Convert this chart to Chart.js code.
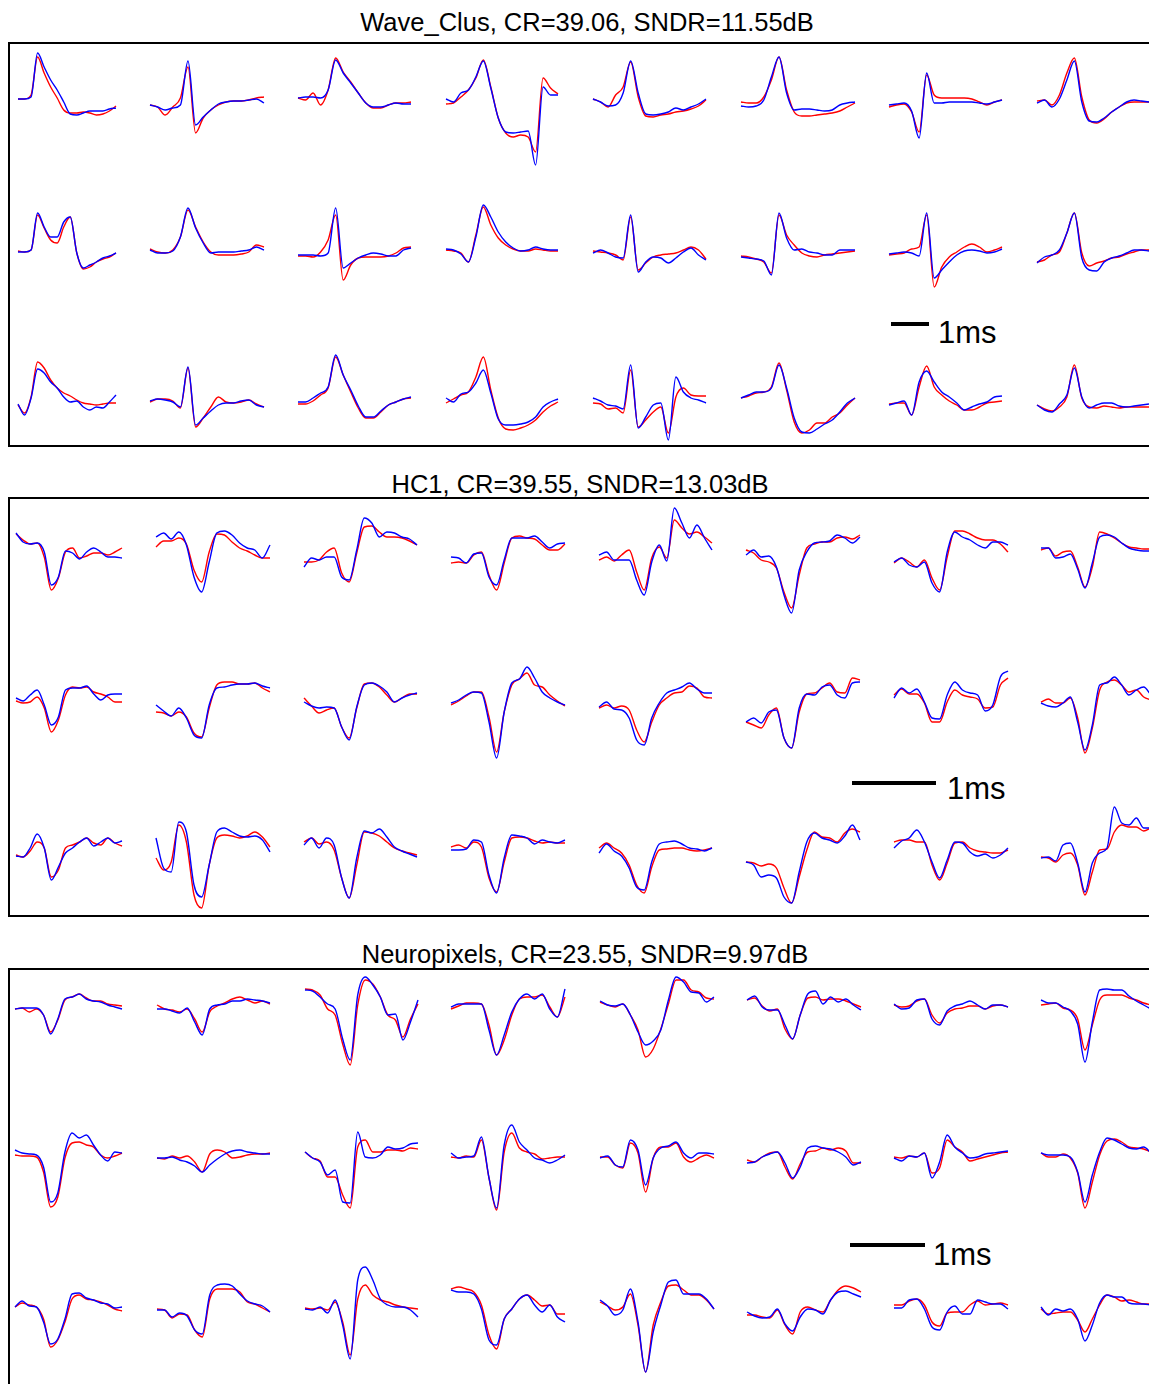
<!DOCTYPE html>
<html>
<head>
<meta charset="utf-8">
<title>Spike reconstruction</title>
<script src="https://cdn.jsdelivr.net/npm/chart.js@4/dist/chart.umd.min.js"></script>
<style>
  html, body { margin: 0; padding: 0; background: #fff; }
  body { width: 1149px; height: 1384px; overflow: hidden; position: relative; font-family: "Liberation Sans", Arial, sans-serif; }
  .frame { position: absolute; left: 8px; width: 1200px; border: 2px solid #000; box-sizing: border-box; }
  .title { position: absolute; width: 700px; text-align: center; font-size: 25.5px; line-height: 28px; color: #000; white-space: nowrap; }
  .ms { position: absolute; font-size: 31px; line-height: 32px; color: #000; }
  #wrap { position: absolute; left: 0; top: 0; width: 1149px; height: 1384px; }
</style>
</head>
<body>
<div class="frame" style="top:42px;height:405px"></div>
<div class="frame" style="top:497px;height:420px"></div>
<div class="frame" style="top:968px;height:500px"></div>
<div id="titles"></div>
<div id="wrap"><canvas id="spikes"></canvas></div>
<script>
// titulos de los paneles
const panelTitles = ['Wave_Clus, CR=39.06, SNDR=11.55dB', 'HC1, CR=39.55, SNDR=13.03dB', 'Neuropixels, CR=23.55, SNDR=9.97dB'];
const scaleBarLabel = '1ms';

// amplitudes (hacia arriba positivo), 16 muestras por espiga, 3 filas x 8 columnas
const waveClusRed = [
  [1,1,5,43,27,13,2,-10,-13,-13,-12,-13,-15,-14,-11,-6],
  [-5,-7,-15,-7,2,33,-33,-18,-10,-5,-2,-1,-1,0,2,3],
  [2,0,7,-5,10,42,28,18,7,-3,-8,-8,-5,-3,-3,-2],
  [-4,-3,3,10,22,40,13,-18,-33,-37,-35,-37,-52,22,12,6],
  [1,-2,-7,5,13,38,3,-16,-17,-15,-14,-12,-11,-9,-6,0],
  [-2,-3,-3,3,20,43,10,-12,-16,-16,-15,-14,-13,-11,-7,-3],
  [-7,-5,-4,-12,-32,25,5,2,2,2,2,1,-2,-5,-2,0],
  [-1,0,-5,5,27,42,3,-20,-23,-19,-12,-7,-3,-2,-2,-2],
  [1,0,2,37,24,12,9,25,35,-1,-17,-15,-10,-7,-5,-1],
  [3,0,-1,2,15,42,25,10,0,-3,-3,-3,-2,0,7,5],
  [-4,-4,-5,0,12,37,-28,-13,-6,-5,-5,-5,-4,-1,4,5],
  [2,1,-1,-10,17,45,27,14,7,3,1,1,3,2,1,1],
  [1,0,-1,-3,-8,35,-18,-11,-5,-3,-2,-1,2,5,2,-7],
  [-4,-5,-7,-10,-21,37,17,7,-1,-4,-5,-3,-2,-1,0,1],
  [-3,-2,-1,3,5,37,-35,-15,-5,0,5,8,5,0,2,5],
  [-10,-8,-3,0,19,39,-1,-14,-11,-9,-6,-5,-2,0,2,2],
  [-1,-9,7,42,36,24,16,11,8,4,1,0,-1,0,1,1],
  [2,5,5,3,-4,36,-23,-14,-3,7,2,1,2,4,0,-3],
  [0,0,3,9,16,47,29,12,-4,-14,-14,-8,-1,2,5,6],
  [1,5,9,12,27,47,14,-14,-25,-26,-24,-21,-16,-8,-2,2],
  [1,0,-5,-4,-9,34,-23,-16,-8,-3,-29,7,16,9,8,8],
  [6,8,11,12,17,41,14,-18,-29,-26,-19,-19,-13,-9,-1,6],
  [0,1,1,-11,17,38,17,9,3,-1,-6,-6,-3,1,2,3],
  [-1,-5,-7,-3,7,39,6,-3,-4,-2,-3,-4,-3,-3,-3,-3]
];
const waveClusBlue = [
  [1,1,3,47,33,20,10,-2,-14,-15,-13,-11,-11,-11,-9,-8],
  [-5,-7,-10,-8,-5,39,-25,-17,-10,-4,-2,-1,-1,0,1,-3],
  [2,3,3,2,10,40,27,17,7,-3,-7,-7,-5,-3,-4,-4],
  [1,-2,7,10,23,39,12,-18,-32,-33,-32,-31,-65,13,5,5],
  [1,-2,-6,-5,7,39,7,-14,-15,-14,-12,-8,-10,-7,-4,1],
  [-6,-7,-6,0,23,43,7,-10,-9,-9,-10,-11,-10,-5,-3,-2],
  [-5,-4,-3,-11,-38,27,-3,-3,-2,-2,-2,-2,-3,-4,-2,0],
  [-3,0,-7,1,20,39,-2,-21,-22,-18,-12,-7,-2,0,-1,-2],
  [0,0,2,39,25,15,15,30,35,-1,-16,-13,-10,-6,-4,-1],
  [2,-1,-1,1,15,44,24,9,-1,0,0,0,1,2,5,2],
  [-3,-3,-3,-4,-1,44,-16,-11,-6,-3,-1,-2,-4,-4,2,4],
  [3,2,-2,-10,15,47,35,20,10,4,1,2,5,3,2,2],
  [-1,2,-1,-5,-6,37,-20,-10,-5,-6,-11,-6,0,4,-3,-8],
  [-5,-6,-7,-9,-23,39,14,2,3,0,-1,-3,-3,2,2,2],
  [-2,-1,0,-1,-4,39,-26,-18,-10,-3,1,2,1,-1,0,3],
  [-11,-5,-3,2,19,39,-6,-18,-19,-10,-6,-4,-1,2,2,1],
  [0,-11,6,35,31,22,16,7,2,3,-3,-6,-3,-4,2,9],
  [3,5,4,2,-3,37,-21,-14,-7,-1,1,1,3,4,-1,-3],
  [2,2,6,11,17,49,29,14,-2,-13,-13,-7,-1,2,5,7],
  [6,2,10,12,21,34,11,-15,-21,-21,-20,-18,-13,-3,2,5],
  [6,3,-1,-2,-5,39,-24,-13,-1,1,-36,27,12,6,4,1],
  [6,9,12,12,16,39,16,-14,-28,-29,-25,-20,-16,-8,1,6],
  [-1,1,3,-11,22,33,22,12,7,1,-6,-3,0,2,7,8],
  [-1,-6,-8,0,9,36,7,-4,-1,1,1,-2,-3,-2,-1,0]
];

const hc1Red = [
  [11,5,1,2,-12,-45,-33,-7,-3,-13,-11,-8,-8,-10,-7,-3],
  [-2,4,4,7,1,-25,-37,-7,11,10,3,-3,-6,-10,-13,-13],
  [-17,-17,-15,-7,-3,-28,-37,-8,18,19,13,8,8,7,4,0],
  [-18,-17,-18,-10,-7,-30,-45,-18,7,9,7,6,0,-5,-5,1],
  [-15,-12,-16,-10,-5,-27,-45,-13,-2,-13,25,17,11,13,8,2],
  [-5,-8,-15,-17,-23,-47,-63,-30,-3,1,3,3,7,8,6,10],
  [-18,-13,-17,-22,-15,-33,-45,-12,14,14,11,7,5,5,1,-7],
  [-5,-3,-11,-7,-6,-22,-42,-22,13,11,7,2,-2,-3,-4,-4],
  [-1,-3,-2,3,-8,-32,-20,5,13,12,13,8,6,3,-2,-2],
  [-12,-13,-16,-12,-17,-33,-37,-8,15,18,18,16,16,17,12,8],
  [2,-6,-13,-10,-8,-27,-38,-8,16,17,13,5,-2,2,6,6],
  [-5,-1,4,8,8,-17,-52,-12,15,21,27,15,13,5,-1,-6],
  [-8,-5,-8,-6,-10,-30,-42,-22,-5,2,7,8,14,12,3,2],
  [-22,-25,-28,-15,-8,-38,-48,-12,6,7,12,17,8,7,22,20],
  [5,11,6,6,-3,-22,-22,-2,10,5,3,1,-8,-7,15,22],
  [-2,1,-3,-3,2,-18,-53,-28,10,18,20,15,8,10,3,0],
  [-5,-7,-1,8,2,-27,-20,2,5,8,12,7,5,12,7,4],
  [-8,-20,-12,25,8,-45,-58,-15,12,15,14,12,14,18,13,3],
  [8,12,6,8,0,-28,-48,-15,18,17,14,8,2,-1,-3,-5],
  [3,5,2,8,3,-28,-42,-12,12,13,12,9,7,8,7,7],
  [2,7,2,-3,-15,-35,-43,-17,0,1,2,2,0,-1,0,2],
  [-12,-13,-16,-14,-18,-38,-53,-27,0,18,13,12,8,17,21,18],
  [8,10,10,8,8,-15,-30,-13,7,8,2,-1,-2,-3,-3,0],
  [-7,-8,-12,-5,-3,-15,-45,-22,0,1,18,25,23,23,19,22]
];
const hc1Blue = [
  [12,3,1,2,-7,-40,-32,-6,-8,-14,-7,-3,-7,-12,-12,-13],
  [8,12,6,13,0,-32,-47,-17,12,14,10,2,-3,-5,-13,0],
  [-22,-13,-15,-12,-12,-32,-35,-5,27,22,8,13,12,8,6,0],
  [-12,-13,-18,-9,-8,-32,-40,-15,7,7,7,9,3,-3,1,2],
  [-10,-7,-15,-15,-15,-35,-50,-17,0,-16,37,22,7,20,7,-5],
  [-10,-5,-12,-11,-22,-50,-68,-25,-7,2,3,4,10,7,2,8],
  [-17,-13,-20,-22,-17,-38,-47,-7,13,8,5,0,-3,3,3,0],
  [-3,-3,-13,-12,-9,-24,-43,-18,8,10,8,2,-3,-5,-6,-6],
  [2,-1,5,10,-5,-25,-17,10,12,12,14,6,0,5,6,6],
  [-5,-11,-16,-8,-18,-35,-38,-5,12,13,15,16,16,17,14,12],
  [-2,-6,-8,-7,-8,-27,-40,-7,15,17,14,8,-2,2,5,7],
  [-3,0,5,8,7,-22,-58,-12,17,21,33,22,8,2,-2,-5],
  [-7,-2,-9,-10,-18,-40,-45,-18,-3,7,10,13,17,11,7,7],
  [-22,-18,-23,-12,-10,-38,-48,-8,6,5,13,15,5,2,17,18],
  [2,12,7,11,-2,-18,-19,5,18,10,7,5,-11,-5,23,29],
  [-3,-6,-7,-3,3,-22,-50,-25,15,17,23,15,5,10,13,5],
  [-6,-7,2,16,2,-30,-17,-3,2,8,12,4,8,12,7,9],
  [12,-18,-22,28,18,-35,-47,-15,18,22,18,14,13,14,10,-2],
  [5,12,2,12,5,-28,-48,-8,19,17,21,13,3,-1,-4,-7],
  [0,0,1,10,8,-25,-43,-8,15,14,12,6,10,8,7,10],
  [-3,6,-1,-6,-18,-37,-40,-12,6,8,9,6,2,1,-1,2],
  [-12,-15,-27,-25,-28,-47,-53,-22,8,17,12,10,7,14,25,10],
  [2,9,12,20,8,-12,-28,-10,8,7,-2,-6,-4,-8,-5,2],
  [-8,-7,-11,5,7,-13,-42,-13,-3,2,43,27,25,32,22,22]
];

const neuroRed = [
  [-2,-1,-5,-2,-8,-25,-13,7,10,13,9,6,6,3,2,1],
  [2,-2,-3,-5,-2,-12,-25,-5,1,4,8,10,7,4,6,3],
  [18,17,12,-2,-8,-37,-58,2,27,23,10,-8,-13,-30,-12,3],
  [-2,1,4,4,3,-18,-48,-33,-8,8,10,10,12,0,-10,10],
  [5,2,0,3,-8,-23,-50,-42,-22,3,27,27,17,15,9,8],
  [7,9,1,-4,-2,-22,-32,-8,9,10,7,8,8,6,3,0],
  [2,0,1,6,8,-8,-16,-6,-2,-1,1,1,-2,1,2,0],
  [2,3,4,-1,-3,-12,-43,-18,7,12,12,12,9,7,4,2],
  [0,-1,-1,-2,-17,-52,-42,-3,12,13,10,8,0,-3,-1,2],
  [-3,-4,-1,-3,-1,-7,-17,1,5,3,-3,-2,0,1,1,2],
  [3,-3,-6,-22,-22,-40,-53,8,15,3,3,5,5,4,7,6],
  [-2,-3,-1,-2,15,-23,-55,3,22,7,3,1,-4,-3,-2,-2],
  [-2,-2,-10,-13,12,2,-37,-3,8,8,12,-2,-7,-3,0,-3],
  [-5,-7,-2,2,3,-12,-24,-9,3,4,7,5,7,4,-8,-8],
  [-2,-3,-1,-2,2,-18,-13,15,8,3,-6,-4,-2,0,2,3],
  [2,-2,-2,1,-3,-18,-53,-27,0,14,16,13,8,7,6,3],
  [0,4,2,0,-12,-40,-33,-15,8,12,8,7,5,2,-2,-4],
  [-2,-3,-11,-7,-8,-23,-30,8,18,18,18,15,5,3,-1,-5],
  [-1,-2,-1,-3,5,-15,-48,8,22,12,7,5,2,0,-1,-2],
  [18,20,18,15,2,-28,-42,-12,-2,8,12,7,1,2,-7,-7],
  [5,1,-3,0,13,-18,-65,-18,5,21,22,17,12,12,7,-2],
  [-8,-8,-10,-11,-3,-18,-27,-5,0,-3,-5,7,17,21,19,15],
  [2,2,6,8,2,-15,-19,-6,-5,-5,2,6,2,3,4,2],
  [-2,-7,-6,-5,-5,-13,-25,-12,2,12,10,6,7,5,3,3]
];
const neuroBlue = [
  [-2,-1,-1,-1,-8,-27,-12,8,10,13,8,6,5,2,0,-2],
  [-2,-2,-4,-6,-1,-15,-28,-2,2,3,6,6,8,7,6,4],
  [17,16,10,3,-2,-32,-53,12,30,22,10,-8,-7,-33,-15,7],
  [0,3,3,3,3,-23,-48,-28,-5,8,13,8,13,-2,-10,18],
  [6,2,1,3,-8,-25,-38,-34,-23,7,30,25,15,14,5,10],
  [7,11,0,-3,-3,-18,-32,-8,13,16,3,10,5,8,2,-3],
  [3,-2,-1,7,8,-12,-18,-4,1,3,6,2,-2,2,2,0],
  [7,4,4,0,-4,-17,-55,-15,17,18,17,17,11,6,2,-2],
  [5,2,1,0,-12,-47,-38,3,22,17,20,10,0,-6,3,2],
  [-3,-3,-2,-5,-7,-11,-17,-10,-4,1,4,5,3,2,1,1],
  [3,-3,-7,-20,-15,-47,-48,23,-2,-3,0,8,6,7,11,12],
  [2,-3,-2,-1,18,-23,-53,10,30,13,5,-3,-5,-8,-5,0],
  [-3,-1,-10,-12,15,5,-30,-3,7,9,13,2,-3,2,2,1],
  [-8,-7,-2,1,3,-8,-23,-12,7,9,7,6,3,-2,-10,-7],
  [-3,-6,-1,-2,2,-23,-7,20,8,2,-3,-2,1,2,3,4],
  [2,0,0,0,-2,-17,-47,-20,3,17,15,11,7,6,8,2],
  [0,6,1,0,-15,-37,-32,-12,13,14,9,7,4,3,-1,0],
  [-3,-3,-10,-6,-9,-23,-27,12,22,23,21,13,6,3,1,-5],
  [-2,-3,0,-6,7,-18,-52,27,40,27,8,2,0,0,-3,-10],
  [17,15,15,13,-2,-33,-38,-12,-2,8,12,2,-5,2,-10,-15],
  [7,1,-8,-3,18,-15,-65,-25,2,25,27,13,13,13,8,-2],
  [-5,-9,-11,-10,-2,-17,-24,-10,-2,-3,-7,7,15,16,13,10],
  [-1,-1,7,8,-2,-20,-23,-5,1,-7,-7,7,5,3,3,-2],
  [0,-8,-2,-4,-2,-12,-34,-18,4,12,10,10,4,3,3,2]
];

// disposicion de cada panel (pixeles de la pagina)
const panels = [
  { red: waveClusRed, blue: waveClusBlue, rowBase: [100, 252, 404],
    colStart: [18, 150, 298, 446, 593, 741, 889, 1037], colWidth: [98, 114, 113, 112, 113, 114, 113, 112],
    titleX: 587, titleY: 22, bar: { x: 891, y: 324, len: 38 }, labelX: 938, labelY: 333 },
  { red: hc1Red, blue: hc1Blue, rowBase: [545, 700, 850],
    colStart: [16, 156, 304, 451, 599, 746, 894, 1041], colWidth: [106, 114, 113, 114, 113, 114, 114, 110],
    titleX: 580, titleY: 484, bar: { x: 852, y: 783, len: 84 }, labelX: 947, labelY: 789 },
  { red: neuroRed, blue: neuroBlue, rowBase: [1007, 1155, 1307],
    colStart: [15, 157, 305, 451, 600, 747, 894, 1041], colWidth: [107, 113, 113, 114, 114, 114, 114, 110],
    titleX: 585, titleY: 954, bar: { x: 850, y: 1245, len: 75 }, labelX: 933, labelY: 1255 }
];

document.addEventListener('DOMContentLoaded', function() {
  const titles = document.getElementById('titles');
  panels.forEach(function(p, k) {
    const t = document.createElement('div');
    t.className = 'title';
    t.textContent = panelTitles[k];
    t.style.left = (p.titleX - 350) + 'px';
    t.style.top = (p.titleY - 14) + 'px';
    titles.appendChild(t);
    const m = document.createElement('div');
    m.className = 'ms';
    m.textContent = scaleBarLabel;
    m.style.left = p.labelX + 'px';
    m.style.top = (p.labelY - 16) + 'px';
    titles.appendChild(m);
  });

  function spike(p, idx, amps, color, order) {
    const r = Math.floor(idx / 8), c = idx % 8;
    const x0 = p.colStart[c], w = p.colWidth[c], n = amps.length;
    return {
      data: amps.map(function(a, i) { return { x: x0 + i * w / (n - 1), y: p.rowBase[r] - a }; }),
      borderColor: color,
      borderWidth: 1.4,
      pointRadius: 0,
      fill: false,
      cubicInterpolationMode: 'monotone',
      order: order
    };
  }

  const datasets = [];
  panels.forEach(function(p) {
    p.blue.forEach(function(amps, i) { datasets.push(spike(p, i, amps, '#0000ff', 0)); });
    p.red.forEach(function(amps, i) { datasets.push(spike(p, i, amps, '#ff0000', 1)); });
    datasets.push({
      data: [{ x: p.bar.x, y: p.bar.y }, { x: p.bar.x + p.bar.len, y: p.bar.y }],
      borderColor: '#000', borderWidth: 4, pointRadius: 0, order: 0
    });
  });

  const ctx = document.getElementById('spikes').getContext('2d');
  new Chart(ctx, {
    type: 'line',
    data: { datasets: datasets },
    options: {
      responsive: true,
      maintainAspectRatio: false,
      animation: false,
      events: [],
      layout: { padding: 0 },
      plugins: { legend: { display: false }, tooltip: { enabled: false } },
      scales: {
        x: { type: 'linear', min: 0, max: 1149, display: false },
        y: { type: 'linear', min: 0, max: 1384, reverse: true, display: false }
      }
    }
  });
});
</script>
</body>
</html>
